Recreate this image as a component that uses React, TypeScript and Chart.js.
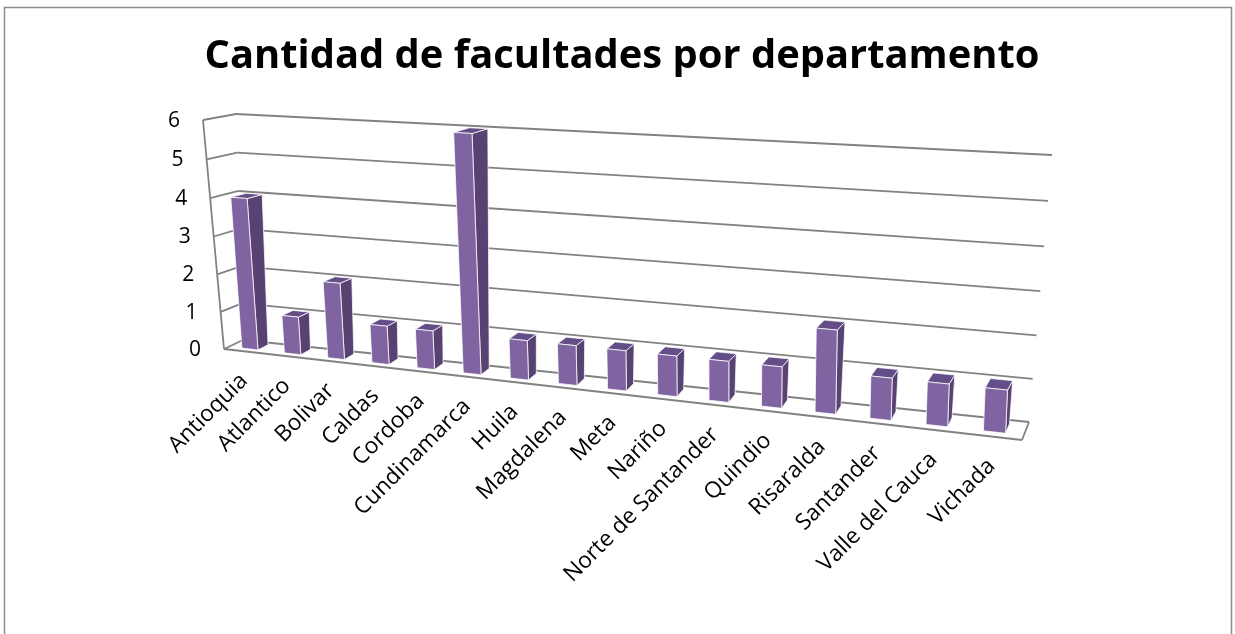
import React, { useEffect, useRef } from "react";
import { Chart, registerables } from "chart.js";

Chart.register(...registerables);

const chartTitle = "Cantidad de facultades por departamento";
const categories = [
  "Antioquia", "Atlantico", "Bolivar", "Caldas", "Cordoba", "Cundinamarca",
  "Huila", "Magdalena", "Meta", "Nariño", "Norte de Santander", "Quindio",
  "Risaralda", "Santander", "Valle del Cauca", "Vichada",
];
const facultades = [4, 1, 2, 1, 1, 6, 1, 1, 1, 1, 1, 1, 2, 1, 1, 1];
const yTicks = [0, 1, 2, 3, 4, 5, 6];

type Pt = { x: number; y: number };
type Quad = { bl: Pt; br: Pt; tr: Pt; tl: Pt };

// screen corners of the back plane and the front plane of the 3D box
const BACK: Quad = { bl: { x: 243, y: 340 }, br: { x: 1029, y: 422 }, tr: { x: 1052, y: 155 }, tl: { x: 236, y: 114 } };
const FRONT: Quad = { bl: { x: 224, y: 349 }, br: { x: 1022, y: 440 }, tr: { x: 1031, y: 170 }, tl: { x: 203, y: 120 } };
const BAR_D0 = 0.2;
const BAR_D1 = 0.74;

function homography(q: Quad) {
  const x0 = q.bl.x, y0 = q.bl.y, x1 = q.br.x, y1 = q.br.y, x2 = q.tr.x, y2 = q.tr.y, x3 = q.tl.x, y3 = q.tl.y;
  const sx = x0 - x1 + x2 - x3, sy = y0 - y1 + y2 - y3;
  const dx1 = x1 - x2, dx2 = x3 - x2, dy1 = y1 - y2, dy2 = y3 - y2;
  const det = dx1 * dy2 - dx2 * dy1;
  const g = (sx * dy2 - dx2 * sy) / det;
  const h = (dx1 * sy - sx * dy1) / det;
  const a = x1 - x0 + g * x1, b = x3 - x0 + h * x3, c = x0;
  const d = y1 - y0 + g * y1, e = y3 - y0 + h * y3, f = y0;
  return (u: number, v: number): Pt => {
    const w = g * u + h * v + 1;
    return { x: (a * u + b * v + c) / w, y: (d * u + e * v + f) / w };
  };
}

const HB = homography(BACK);
const HF = homography(FRONT);
const P = (u: number, v: number, dep: number): Pt => {
  const b = HB(u, v), f = HF(u, v);
  return { x: b.x + (f.x - b.x) * dep, y: b.y + (f.y - b.y) * dep };
};

const frame3d = {
  id: "frame3d",
  beforeDraw(chart: any) {
    const ctx = chart.ctx;
    ctx.save();
    ctx.fillStyle = "#ffffff";
    ctx.fillRect(0, 0, chart.width, chart.height);
    ctx.restore();
  },
  afterDraw(chart: any) {
    const ctx: CanvasRenderingContext2D = chart.ctx;
    const area = chart.chartArea;
    const ys = chart.scales.y;
    const base = ys.getPixelForValue(ys.min);
    const top = ys.getPixelForValue(ys.max);
    const vOf = (val: number) => (base - ys.getPixelForValue(val)) / (base - top);
    const uOf = (px: number) => (px - area.left) / (area.right - area.left);

    ctx.save();
    // outer frame
    ctx.strokeStyle = "#8c8c8c";
    ctx.lineWidth = 1.5;
    ctx.strokeRect(4.5, 7.5, 1227, 700);

    // title
    ctx.fillStyle = "#000";
    ctx.font = 'bold 39px "Open Sans"';
    const tw = ctx.measureText(chartTitle).width;
    ctx.save();
    ctx.translate(622, 68);
    ctx.scale(835 / tw, 1);
    ctx.textAlign = "center";
    ctx.textBaseline = "alphabetic";
    ctx.fillText(chartTitle, 0, 0);
    ctx.restore();

    const line = (a: Pt, b: Pt) => {
      ctx.beginPath();
      ctx.moveTo(a.x, a.y);
      ctx.lineTo(b.x, b.y);
      ctx.stroke();
    };
    ctx.strokeStyle = "#828282";
    ctx.lineWidth = 1.8;
    // gridlines on side wall and back wall
    yTicks.forEach((t) => {
      const v = vOf(t);
      line(P(0, v, 1), P(0, v, 0));
      line(P(0, v, 0), P(1, v, 0));
    });
    // side wall front edge
    line(P(0, 0, 1), P(0, 1, 1));
    // floor front & right edges
    line(P(0, 0, 1), P(1, 0, 1));
    line(P(1, 0, 1), P(1, 0, 0));

    // y tick labels
    ctx.fillStyle = "#000";
    ctx.font = '21px "Open Sans"';
    ctx.textAlign = "right";
    ctx.textBaseline = "middle";
    yTicks.forEach((t) => {
      const p = P(0, vOf(t), 1);
      ctx.fillText(String(t), p.x - 23, p.y + 1);
    });

    // bars
    const meta = chart.getDatasetMeta(0);
    const quad = (pts: Pt[], fill: string) => {
      ctx.beginPath();
      ctx.moveTo(pts[0].x, pts[0].y);
      for (let i = 1; i < pts.length; i++) ctx.lineTo(pts[i].x, pts[i].y);
      ctx.closePath();
      ctx.fillStyle = fill;
      ctx.fill();
      ctx.strokeStyle = "rgba(255,255,255,0.75)";
      ctx.lineWidth = 1;
      ctx.stroke();
    };
    meta.data.forEach((el: any) => {
      const uc = uOf(el.x);
      const hw = el.width / 2 / (area.right - area.left);
      const ul = uc - hw, ur = uc + hw;
      const v = (el.base - el.y) / (base - top);
      // right side face
      quad([P(ur, 0, BAR_D1), P(ur, 0, BAR_D0), P(ur, v, BAR_D0), P(ur, v, BAR_D1)], "#574272");
      // top face
      quad([P(ul, v, BAR_D1), P(ur, v, BAR_D1), P(ur, v, BAR_D0), P(ul, v, BAR_D0)], "#634e88");
      // front face
      quad([P(ul, 0, BAR_D1), P(ur, 0, BAR_D1), P(ur, v, BAR_D1), P(ul, v, BAR_D1)], "#8064a2");
    });

    // category labels
    ctx.font = '20px "Open Sans"';
    const ref = ctx.measureText("Norte de Santander").width;
    const size = 20 * 208 / ref;
    ctx.font = `${size.toFixed(2)}px "Open Sans"`;
    ctx.fillStyle = "#000";
    ctx.textAlign = "right";
    ctx.textBaseline = "middle";
    meta.data.forEach((el: any, i: number) => {
      const p = P(uOf(el.x), 0, 1);
      ctx.save();
      ctx.translate(p.x - 1, p.y + 26);
      ctx.rotate(-Math.PI / 4);
      ctx.fillText(categories[i], 0, 0);
      ctx.restore();
    });
    ctx.restore();
  },
};

export default function App() {
  const ref = useRef<HTMLCanvasElement | null>(null);
  useEffect(() => {
    document.body.style.margin = "0";
    const canvas = ref.current;
    if (!canvas) return;
    const chart = new Chart(canvas, {
      type: "bar",
      data: {
        labels: categories,
        datasets: [
          {
            label: "Facultades",
            data: facultades,
            backgroundColor: "rgba(0,0,0,0)",
            borderWidth: 0,
            barPercentage: 0.38,
            categoryPercentage: 1,
          },
        ],
      },
      options: {
        responsive: false,
        devicePixelRatio: 1,
        animation: false,
        layout: { padding: 0 },
        plugins: { legend: { display: false }, title: { display: false }, tooltip: { enabled: false } },
        scales: {
          x: { display: false },
          y: { display: false, min: 0, max: 6, ticks: { stepSize: 1 } },
        },
      },
      plugins: [frame3d],
    });
    return () => chart.destroy();
  }, []);
  return <canvas ref={ref} width={1235} height={634} style={{ display: "block" }} />;
}
